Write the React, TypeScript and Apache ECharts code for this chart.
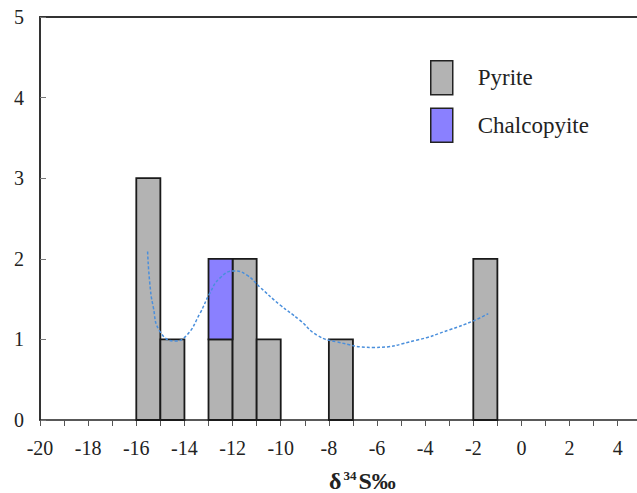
import React, { useEffect, useRef } from "react";
import * as echarts from "echarts";

const binStarts = [-16, -15, -13, -12, -11, -8, -2];
const binWidth = 1;
const pyrite = [3, 1, 1, 2, 1, 1, 2];
const chalcopyrite = [0, 0, 1, 0, 0, 0, 0];
const curveX = [-15.53, -15.44, -15.3, -15.02, -14.4, -13.91, -13.36, -12.95, -12.53, -11.94, -11.42, -10.87, -10.04, -9.21, -8.48, -7.68, -6.15, -4.36, -2.98, -2.0, -1.38];
const curveY = [2.09, 1.7, 1.41, 1.1, 0.98, 1.05, 1.32, 1.57, 1.76, 1.85, 1.8, 1.65, 1.43, 1.24, 1.05, 0.97, 0.9, 0.99, 1.12, 1.23, 1.32];
const yTicks = [0, 1, 2, 3, 4, 5];
const xMin = -20;
const xMax = 4.8;

const FONT = "Liberation Serif";

export default function App() {
  const ref = useRef<HTMLDivElement>(null);
  useEffect(() => {
    document.body.style.margin = "0";
    if (!ref.current) return;
    const chart = echarts.init(ref.current, undefined, { renderer: "svg" });
    const pyriteData = binStarts.map((s, i) => [s, s + binWidth, 0, pyrite[i]]);
    const chalcoData = binStarts
      .map((s, i) => [s, s + binWidth, pyrite[i], pyrite[i] + chalcopyrite[i]])
      .filter((d, i) => chalcopyrite[i] > 0);
    const makeRender = (fill: string) => (params: any, api: any) => {
      const p0 = api.coord([api.value(0), api.value(3)]);
      const p1 = api.coord([api.value(1), api.value(2)]);
      return {
        type: "rect",
        shape: { x: p0[0], y: p0[1], width: p1[0] - p0[0], height: p1[1] - p0[1] },
        style: { fill, stroke: "#1a1a1a", lineWidth: 1.8 },
      };
    };
    chart.setOption({
      animation: false,
      backgroundColor: "#ffffff",
      textStyle: { fontFamily: FONT },
      grid: { left: 40, right: 0, top: 17, bottom: 73 },
      legend: {
        orient: "vertical",
        left: 425,
        top: 55,
        itemWidth: 22,
        itemHeight: 34,
        itemGap: 12,
        textStyle: { fontFamily: FONT, fontSize: 23, color: "#222", padding: [0, 0, 0, 20] },
        data: [
          { name: "Pyrite", icon: "rect", itemStyle: { color: "#b3b3b3", borderColor: "#222", borderWidth: 1.5 } },
          { name: "Chalcopyite", icon: "rect", itemStyle: { color: "#8a80ff", borderColor: "#222", borderWidth: 1.5 } },
        ],
      },
      xAxis: [
        {
          type: "value",
          min: xMin,
          max: xMax,
          interval: 1,
          splitLine: { show: false },
          axisLine: { onZero: false, lineStyle: { color: "#222", width: 1.5 } },
          axisTick: { show: true, inside: false, length: 6, lineStyle: { color: "#555", width: 1 } },
          axisLabel: {
            fontFamily: FONT,
            fontSize: 20,
            color: "#222",
            margin: 18,
            showMaxLabel: false,
            formatter: (v: number) => (Math.round(v) % 2 === 0 ? String(Math.round(v)) : ""),
          },
        },
        {
          type: "value",
          position: "top",
          min: xMin,
          max: xMax,
          interval: 1,
          splitLine: { show: false },
          axisLine: { show: true, onZero: false, lineStyle: { color: "#333", width: 2 } },
          axisTick: { show: false },
          axisLabel: { show: false },
        },
      ],
      yAxis: {
        type: "value",
        min: yTicks[0],
        max: yTicks[yTicks.length - 1],
        interval: 1,
        splitLine: { show: false },
        axisLine: { show: true, onZero: false, lineStyle: { color: "#333", width: 2 } },
        axisTick: { show: true, inside: true, length: 6, lineStyle: { color: "#777", width: 1 } },
        axisLabel: { fontFamily: FONT, fontSize: 20, color: "#222", margin: 16 },
      },
      graphic: [
        {
          type: "text",
          left: 329,
          top: 469,
          style: {
            text: "{d|δ}{s|34}{d|S‰}",
            rich: {
              d: { fontFamily: FONT, fontSize: 24, fontWeight: "bold", fill: "#222" },
              s: { fontFamily: FONT, fontSize: 13, fontWeight: "bold", fill: "#222", verticalAlign: "top", padding: [0, 2, 11, 2] },
            },
          },
        },
      ],
      series: [
        {
          name: "Pyrite",
          type: "custom",
          itemStyle: { color: "#b3b3b3" },
          renderItem: makeRender("#b3b3b3"),
          encode: { x: [0, 1], y: [2, 3] },
          data: pyriteData,
        },
        {
          name: "Chalcopyite",
          type: "custom",
          itemStyle: { color: "#8a80ff" },
          renderItem: makeRender("#8a80ff"),
          encode: { x: [0, 1], y: [2, 3] },
          data: chalcoData,
        },
        {
          name: "curve",
          type: "line",
          smooth: 0.5,
          showSymbol: false,
          symbol: "none",
          lineStyle: { color: "#4a8fdc", width: 1.5, type: [3, 2] },
          data: curveX.map((x, i) => [x, curveY[i]]),
          z: 5,
        },
      ],
    });
    return () => chart.dispose();
  }, []);
  return <div ref={ref} style={{ width: 637, height: 493 }} />;
}
